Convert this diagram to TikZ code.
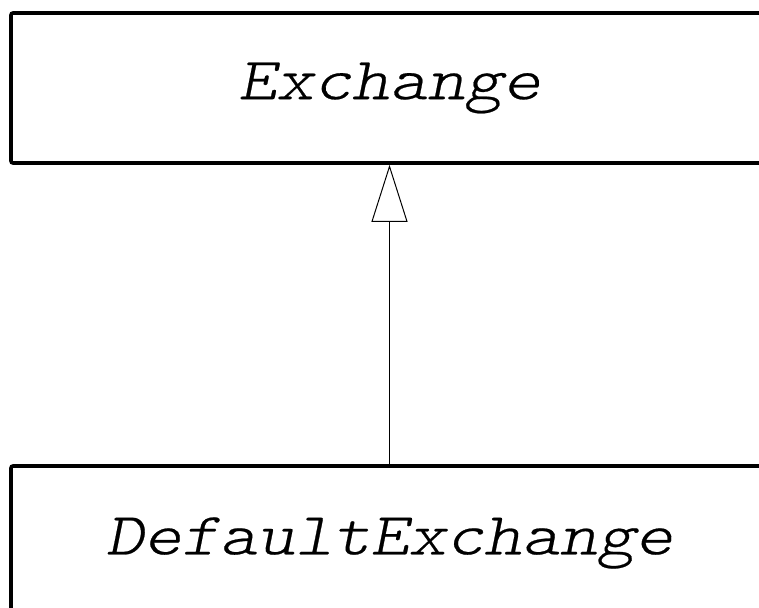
\documentclass[tikz,border=0pt]{standalone}
\usepackage{fontspec}
\newfontfamily\classfont[FakeStretch=1.2, FakeBold=0.4]{lmmonolt10-oblique.otf}
\usepackage{tikz}
\usetikzlibrary{arrows.meta, positioning}

\begin{document}
\begin{tikzpicture}[
    x=1pt, y=1pt,
    umlclass/.style={rectangle, rounded corners=2pt, draw, line width=3.6pt, minimum width=757pt, inner sep=0pt, font=\fontsize{60}{60}\classfont},
    inherit/.style={-{Triangle[open, length=57pt, width=36pt, line width=1pt]}, line width=1pt}
]
    \useasboundingbox (0,0) rectangle (759,-607);
    \clip (0,0) rectangle (759,-607);

    % Classes
    \node[umlclass, minimum height=150pt] (exchange) at (389.5,-88) {Exchange};
    \node[umlclass, minimum height=154pt] (defaultexchange) at (389.5,-543) {DefaultExchange};

    % Arrows
    \draw[inherit] (defaultexchange) -- (exchange);
\end{tikzpicture}
\end{document}
